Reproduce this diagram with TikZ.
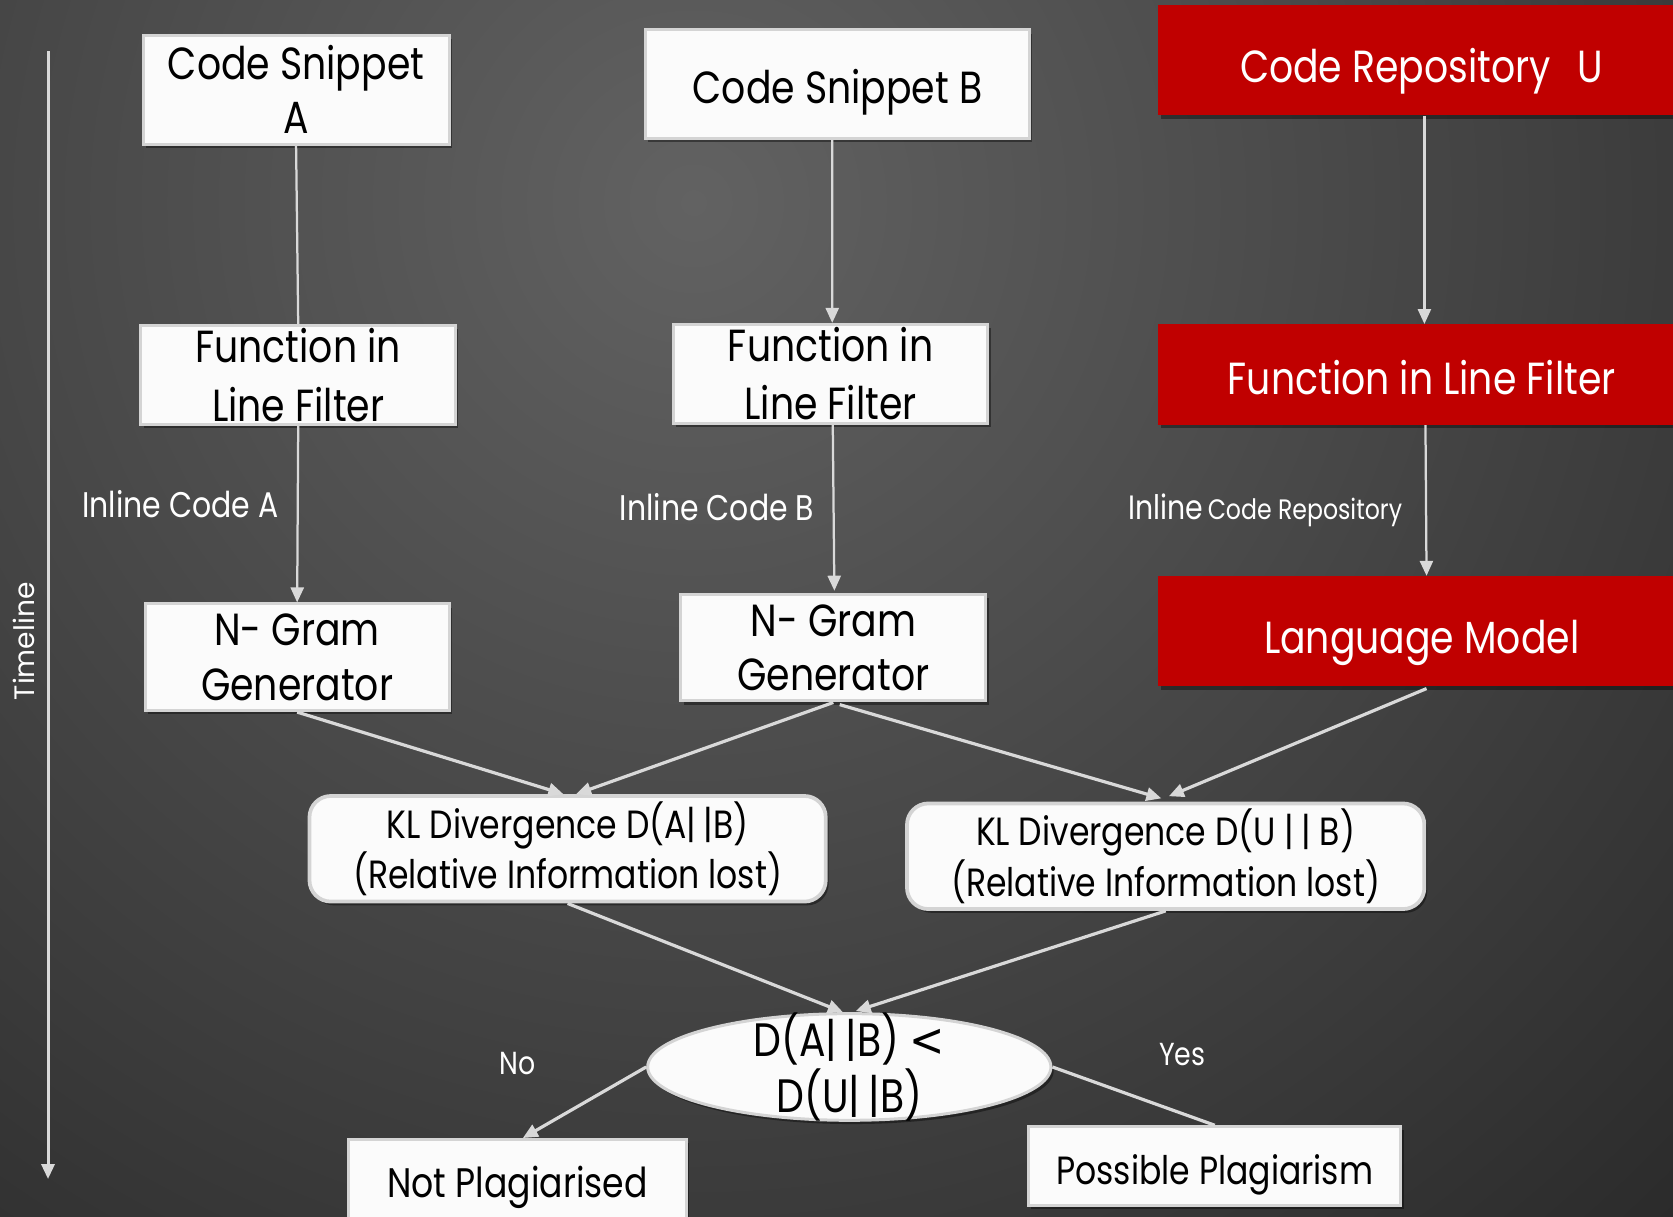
\documentclass[tikz,border=0pt]{standalone}
\usepackage{fontspec}
\setmainfont{Poppins}[FakeStretch=0.84]
\newfontfamily\tlfont{Poppins}
\newfontfamily\symfont{DejaVu Sans}[FakeStretch=0.9]
\usetikzlibrary{shapes.geometric,shadows,calc,arrows.meta}

\definecolor{bgcenter}{RGB}{98,98,98}
\definecolor{bgedge}{RGB}{17,17,17}
\definecolor{boxfill}{RGB}{251,251,251}
\definecolor{boxline}{RGB}{212,212,212}
\definecolor{repored}{RGB}{192,0,0}
\definecolor{wirecol}{RGB}{217,217,217}

% thin-spaced double bar used in the divergence notation
\newcommand{\dbar}{|\hspace{0.18em}|}
% one line of text whose baseline sits #1 below the node centre
\newcommand{\baseat}[2]{\raisebox{-#1}[0pt][0pt]{#2}}

\tikzset{
  softshadow/.style={drop shadow={shadow xshift=1.5pt, shadow yshift=-2pt, opacity=0.4, fill=black}},
  whitebox/.style={draw=boxline, line width=1.6pt, fill=boxfill, inner sep=0pt,
    align=center, text=black, softshadow},
  redbox/.style={fill=repored, inner sep=0pt, align=center, text=white, softshadow},
  klbox/.style={whitebox, line width=2pt, rounded corners=0.4cm},
  decision/.style={ellipse, whitebox, inner xsep=-0.6cm, inner ysep=-0.4cm},
  bigtext/.style={font=\fontsize{24}{31}\selectfont},
  kltext/.style={font=\fontsize{21}{27}\selectfont},
  lbl/.style={text=white, inner sep=0pt},
  wire/.style={draw=wirecol, line width=1.2pt},
  flow/.style={wire, -{Triangle[width=7pt,length=8pt]}},
  thickflow/.style={flow, line width=1.7pt},
}

\begin{document}
\begin{tikzpicture}[x=0.02cm, y=-0.02cm]
  % backdrop: dark radial fade
  \useasboundingbox (0,0) rectangle (1568,1140);
  \fill[bgedge] (0,0) rectangle (1568,1140);
  \begin{scope}
    \clip (0,0) rectangle (1568,1140);
    \shade[inner color=bgcenter, outer color=bgedge] (650,190) circle[radius=1950];
  \end{scope}

  % timeline
  \coordinate (tltop) at (45,48);
  \coordinate (tlbot) at (45,1105);
  \draw[flow, line width=1.6pt] (tltop) -- (tlbot);
  \node[lbl, rotate=90, font=\tlfont\fontsize{15}{18}\selectfont] (tl) at (22,601) {Timeline};

  % column A
  \node[whitebox, bigtext, minimum width=5.74cm, minimum height=2.04cm] (codeA) at (277.5,84) {\raisebox{-2pt}{Code Snippet}\\A};
  \node[whitebox, bigtext, minimum width=5.9cm, minimum height=1.86cm] (filtA) at (279.5,351.5) {Function in\\Line Filter};
  \node[whitebox, bigtext, minimum width=5.7cm, minimum height=2.0cm] (ngA) at (278.5,616) {\raisebox{-2pt}{N- Gram}\\Generator};

  % column B
  \node[whitebox, bigtext, minimum width=7.2cm, minimum height=2.04cm] (codeB) at (785,79) {\baseat{10.2pt}{Code Snippet B}};
  \node[whitebox, bigtext, minimum width=5.9cm, minimum height=1.86cm] (filtB) at (778.5,350.5) {Function in\\Line Filter};
  \node[whitebox, bigtext, minimum width=5.72cm, minimum height=2.0cm] (ngB) at (781,607) {\raisebox{-2pt}{N- Gram}\\Generator};

  % repository column
  \node[redbox, bigtext, minimum width=9.9cm, minimum height=2.06cm] (repo) at (1332.5,56.5) {\baseat{11.7pt}{Code Repository\hspace{0.6em}U}};
  \node[redbox, bigtext, minimum width=9.9cm, minimum height=1.88cm] (filtU) at (1332.5,351) {\baseat{10.8pt}{Function in Line Filter}};
  \node[redbox, bigtext, minimum width=9.9cm, minimum height=2.06cm] (lm) at (1332.5,591.5) {\baseat{11.7pt}{Language Model}};

  % divergences
  \node[klbox, kltext, minimum width=9.68cm, minimum height=1.98cm] (kl1) at (532,795.5) {KL Divergence D(A\dbar B)\\(Relative Information lost)};
  \node[klbox, kltext, minimum width=9.7cm, minimum height=1.98cm] (kl2) at (1092.5,802.5) {KL Divergence D(U \dbar{} B)\\(Relative Information lost)};

  % decision and outcomes
  \node[decision, font=\fontsize{25}{30}\selectfont, minimum width=7.56cm, minimum height=2.0cm] (dec) at (796,1000) {D(A\dbar B) {\symfont <}\\D(U\dbar B)};
  \node[whitebox, font=\fontsize{22}{26}\selectfont, minimum width=6.32cm, minimum height=1.6cm] (notp) at (485,1108) {\baseat{8pt}{Not Plagiarised}};
  \node[whitebox, font=\fontsize{21}{26}\selectfont, minimum width=6.98cm, minimum height=1.48cm] (possp) at (1138.5,1093) {\baseat{9.7pt}{Possible Plagiarism}};

  % edge labels
  \node[lbl, font=\fontsize{19}{22}\selectfont] (inA) at (169,472) {Inline Code A};
  \node[lbl, font=\fontsize{19}{22}\selectfont] (inB) at (672,475) {Inline Code B};
  \node[lbl] (inU) at (1186,478) {{\fontsize{18}{22}\selectfont Inline} {\fontsize{15}{22}\selectfont Code Repository}};
  \node[lbl, font=\fontsize{17}{20}\selectfont] (no) at (485,997) {No};
  \node[lbl, font=\fontsize{17}{20}\selectfont] (yes) at (1108,988) {Yes};

  % vertical flows
  \draw[wire] (codeA.south) -- (filtA.north);
  \draw[flow] (filtA.south) -- (ngA.north);
  \draw[flow] ($(codeB.south)+(-5,0)$) -- ($(filtB.north)+(1.5,0)$);
  \draw[flow] ($(filtB.south)+(2,0)$) -- ($(ngB.north)+(1,-2)$);
  \draw[flow] ($(repo.south)+(2.5,0)$) -- ($(filtU.north)+(2.5,0)$);
  \draw[flow] ($(filtU.south)+(3.5,0)$) -- ($(lm.north)+(4.5,0)$);

  % into the divergences
  \draw[thickflow] (ngA.south) -- ($(kl1.north)+(-4,0)$);
  \draw[thickflow] (ngB.south) -- ($(kl1.north)+(8,0)$);
  \draw[thickflow] ($(ngB.south)+(6,2)$) -- ($(kl2.north)+(-4,-3)$);
  \draw[thickflow] ($(lm.south)+(4.5,2)$) -- ($(kl2.north)+(3,-5)$);

  % into the decision
  \draw[thickflow] (kl1.south) -- ($(dec.north)+(-6,0)$);
  \draw[thickflow] (kl2.south) -- ($(dec.north)+(6,-1)$);

  % outcomes
  \draw[thickflow] (dec.west) -- ($(notp.north)+(5,0)$);
  \draw[wire, line width=1.7pt] (dec.east) -- (possp.north);
\end{tikzpicture}
\end{document}
